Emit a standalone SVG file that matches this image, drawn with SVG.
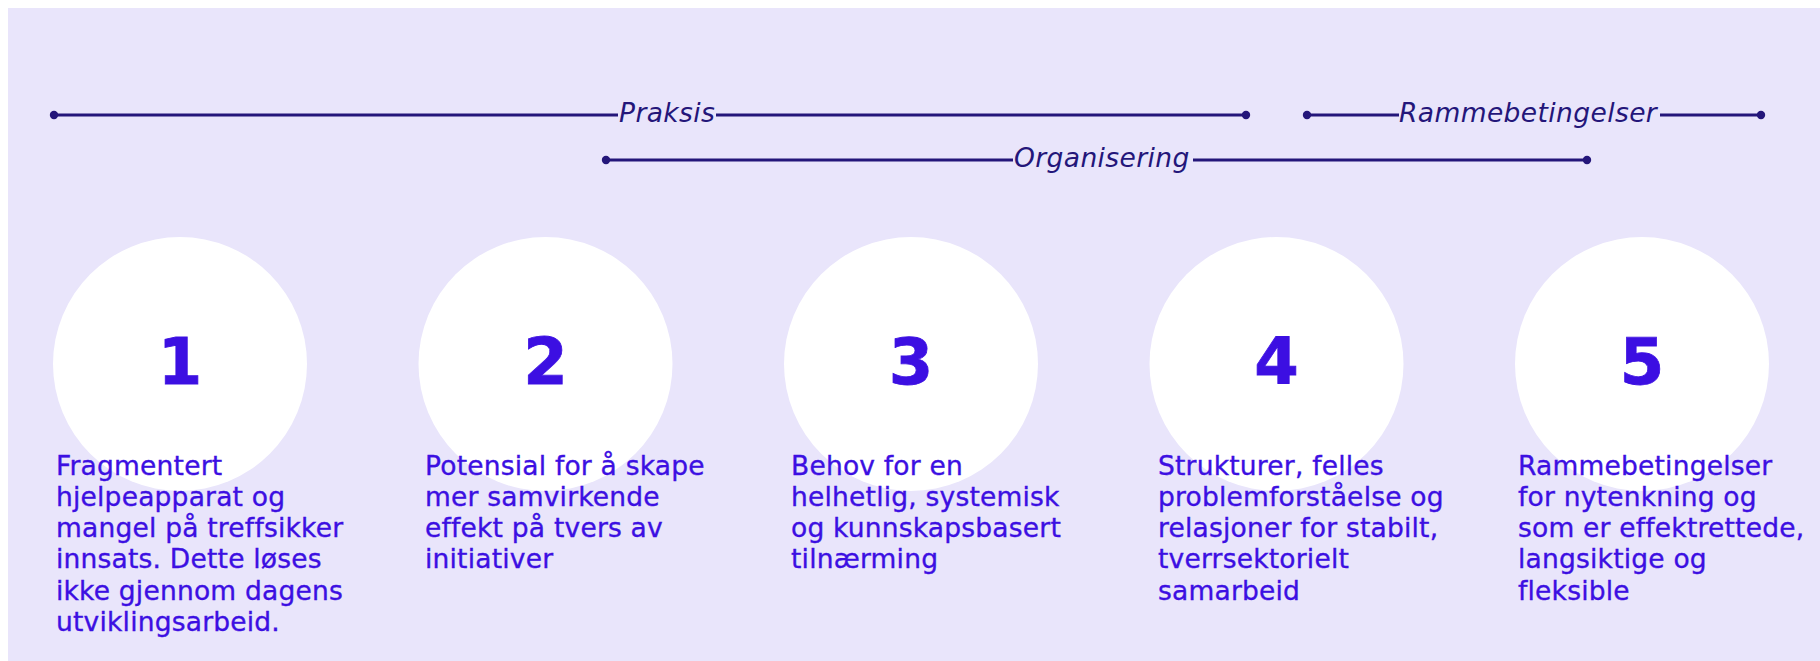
<svg xmlns="http://www.w3.org/2000/svg" width="1820" height="661" viewBox="0 0 1820 661">
<style>
.bg{fill:#e9e5fb}
.ln{stroke:#24167a;stroke-width:2.8;fill:none}
.dot{fill:#24167a}
.lbl{font-family:"DejaVu Sans",sans-serif;font-style:italic;font-size:26.5px;fill:#24167a;letter-spacing:0.4px}
.circ{fill:#ffffff}
.num{font-family:"DejaVu Sans",sans-serif;font-weight:bold;font-size:64px;fill:#3c0fe2;text-anchor:middle;stroke:#3c0fe2;stroke-width:0.8}
.body{font-family:"DejaVu Sans",sans-serif;font-size:26.5px;fill:#3c0fe2;letter-spacing:0.2px;stroke:#3c0fe2;stroke-width:0.35}
</style>
<rect class="bg" x="8" y="8" width="1812" height="653"/>
<g id="connectors">
  <g id="praksis">
    <line class="ln" x1="54" y1="115" x2="618" y2="115"/>
    <line class="ln" x1="716" y1="115" x2="1246" y2="115"/>
    <circle class="dot" cx="54" cy="115" r="4.2"/>
    <circle class="dot" cx="1246" cy="115" r="4.2"/>
    <text class="lbl" x="619" y="122">Praksis</text>
  </g>
  <g id="rammebetingelser">
    <line class="ln" x1="1307" y1="115" x2="1399" y2="115"/>
    <line class="ln" x1="1660" y1="115" x2="1761" y2="115"/>
    <circle class="dot" cx="1307" cy="115" r="4.2"/>
    <circle class="dot" cx="1761" cy="115" r="4.2"/>
    <text class="lbl" x="1399" y="122">Rammebetingelser</text>
  </g>
  <g id="organisering">
    <line class="ln" x1="606" y1="160" x2="1013" y2="160"/>
    <line class="ln" x1="1193" y1="160" x2="1587" y2="160"/>
    <circle class="dot" cx="606" cy="160" r="4.2"/>
    <circle class="dot" cx="1587" cy="160" r="4.2"/>
    <text class="lbl" x="1014" y="167">Organisering</text>
  </g>
</g>
<g id="node1">
  <circle class="circ" cx="180" cy="364" r="127"/>
  <text class="num" x="180" y="384">1</text>
  <text class="body" x="56" y="475">Fragmentert</text>
  <text class="body" x="56" y="506">hjelpeapparat og</text>
  <text class="body" x="56" y="537">mangel på treffsikker</text>
  <text class="body" x="56" y="568">innsats. Dette løses</text>
  <text class="body" x="56" y="600">ikke gjennom dagens</text>
  <text class="body" x="56" y="631">utviklingsarbeid.</text>
</g>
<g id="node2">
  <circle class="circ" cx="545.5" cy="364" r="127"/>
  <text class="num" x="545.5" y="384">2</text>
  <text class="body" x="425" y="475">Potensial for å skape</text>
  <text class="body" x="425" y="506">mer samvirkende</text>
  <text class="body" x="425" y="537">effekt på tvers av</text>
  <text class="body" x="425" y="568">initiativer</text>
</g>
<g id="node3">
  <circle class="circ" cx="911" cy="364" r="127"/>
  <text class="num" x="911" y="384">3</text>
  <text class="body" x="791" y="475">Behov for en</text>
  <text class="body" x="791" y="506">helhetlig, systemisk</text>
  <text class="body" x="791" y="537">og kunnskapsbasert</text>
  <text class="body" x="791" y="568">tilnærming</text>
</g>
<g id="node4">
  <circle class="circ" cx="1276.5" cy="364" r="127"/>
  <text class="num" x="1276.5" y="384">4</text>
  <text class="body" x="1158" y="475">Strukturer, felles</text>
  <text class="body" x="1158" y="506">problemforståelse og</text>
  <text class="body" x="1158" y="537">relasjoner for stabilt,</text>
  <text class="body" x="1158" y="568">tverrsektorielt</text>
  <text class="body" x="1158" y="600">samarbeid</text>
</g>
<g id="node5">
  <circle class="circ" cx="1642" cy="364" r="127"/>
  <text class="num" x="1642" y="384">5</text>
  <text class="body" x="1518" y="475">Rammebetingelser</text>
  <text class="body" x="1518" y="506">for nytenkning og</text>
  <text class="body" x="1518" y="537">som er effektrettede,</text>
  <text class="body" x="1518" y="568">langsiktige og</text>
  <text class="body" x="1518" y="600">fleksible</text>
</g>
</svg>
